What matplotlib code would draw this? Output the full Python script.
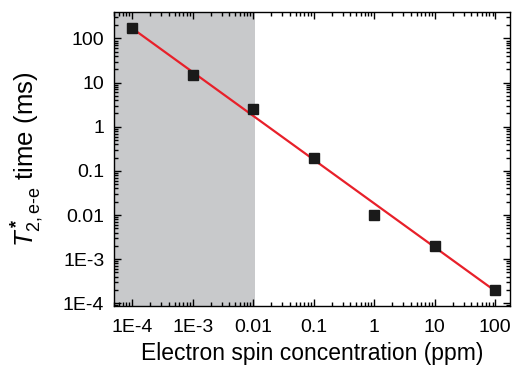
import numpy as np
import matplotlib
matplotlib.use("Agg")
import matplotlib.pyplot as plt
from matplotlib.ticker import LogLocator, FixedLocator, FixedFormatter, NullFormatter

plt.rcParams['font.family'] = ['Liberation Sans', 'DejaVu Sans']
plt.rcParams['mathtext.fontset'] = 'custom'
plt.rcParams['mathtext.rm'] = 'Liberation Sans'
plt.rcParams['mathtext.it'] = 'Liberation Sans:italic'
plt.rcParams['mathtext.bf'] = 'Liberation Sans:bold'

# data
conc = [1e-4, 1e-3, 1e-2, 1e-1, 1, 10, 100]
t2 = [170, 15, 2.5, 0.2, 0.01, 2e-3, 2e-4]
fit_x = [1e-4, 100]
fit_y = [170, 1.9e-4]
shade_end = 0.0108

xticks = [1e-4, 1e-3, 1e-2, 1e-1, 1, 10, 100]
xlabels = ["1E-4", "1E-3", "0.01", "0.1", "1", "10", "100"]
yticks = [1e-4, 1e-3, 1e-2, 1e-1, 1, 10, 100]
ylabels = ["1E-4", "1E-3", "0.01", "0.1", "1", "10", "100"]

fig = plt.figure(figsize=(5.17, 3.69), dpi=100)
ax = fig.add_axes([114/517, 1 - 306/369, (510-114)/517, (306-12)/369])

ax.set_xscale("log")
ax.set_yscale("log")
ax.set_xlim(5e-5, 175)
ax.set_ylim(10**-4.06, 10**2.6)

ax.axvspan(1e-6, shade_end, color="#c8c9cb", lw=0, zorder=0)
ax.plot(fit_x, fit_y, color="#e8202a", lw=1.6, zorder=2)
ax.plot(conc, t2, "s", color="#1a1a1a", ms=6.5, zorder=3)

ax.xaxis.set_major_locator(FixedLocator(xticks))
ax.xaxis.set_major_formatter(FixedFormatter(xlabels))
ax.yaxis.set_major_locator(FixedLocator(yticks))
ax.yaxis.set_major_formatter(FixedFormatter(ylabels))
ax.xaxis.set_minor_locator(LogLocator(base=10, subs=np.arange(2, 10), numticks=20))
ax.yaxis.set_minor_locator(LogLocator(base=10, subs=np.arange(2, 10), numticks=20))
ax.xaxis.set_minor_formatter(NullFormatter())
ax.yaxis.set_minor_formatter(NullFormatter())

ax.tick_params(which="both", direction="in", top=True, right=True, width=1)
ax.tick_params(which="major", length=5, labelsize=14)
ax.tick_params(axis="y", which="major", pad=7)
ax.tick_params(axis="x", which="major", pad=9)
ax.tick_params(which="minor", length=3)
for s in ax.spines.values():
    s.set_linewidth(1)

ax.set_xlabel("Electron spin concentration (ppm)", fontsize=16.5, labelpad=5)
ax.set_ylabel(r"$T^{\,\mathbf{*}}_{\mathrm{2,e\text{-}e}}$ time (ms)", fontsize=18.5, labelpad=12)

fig.savefig("out.png", dpi=100)
